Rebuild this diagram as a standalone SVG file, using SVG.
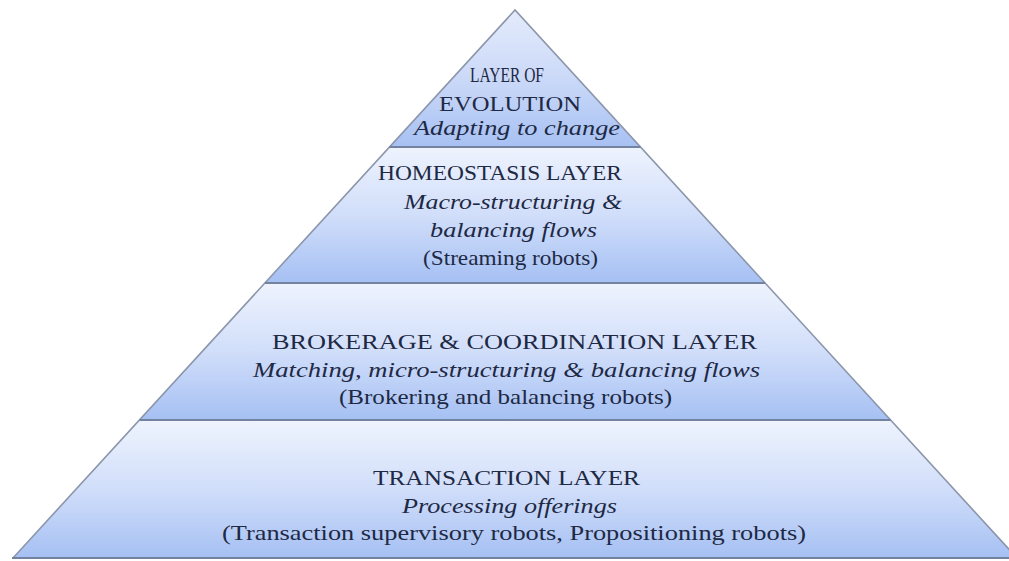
<svg xmlns="http://www.w3.org/2000/svg" width="1009" height="561" viewBox="0 0 1009 561">
<defs>
<linearGradient id="g" x1="0" y1="0" x2="0" y2="1">
<stop offset="0" stop-color="#eef3fd"/>
<stop offset="0.5" stop-color="#d1defa"/>
<stop offset="1" stop-color="#a5c0f3"/>
</linearGradient>
<linearGradient id="gt" x1="0" y1="0" x2="0" y2="1">
<stop offset="0" stop-color="#e4ebfb"/>
<stop offset="0.5" stop-color="#cbd9f8"/>
<stop offset="1" stop-color="#a7c1f3"/>
</linearGradient>
</defs>
<style>
.layer{fill:url(#g);stroke:none}
.edge{stroke:#8c96ab;stroke-width:1.6;fill:none}
.sep{stroke:#73829f;stroke-width:2.2}
.t{font-size:22px;fill:#1e2944;text-anchor:middle}
.i{font-style:italic}
</style>
<rect width="1009" height="561" fill="#ffffff"/>
<g font-family="Liberation Serif, DejaVu Serif, serif">
<g id="layer-evolution">
<polygon points="515,10 640.5,147 389.5,147" fill="url(#gt)"/>
<text class="t" x="507" y="82" textLength="74" lengthAdjust="spacingAndGlyphs">LAYER OF</text>
<text class="t" x="510" y="111" textLength="142" lengthAdjust="spacingAndGlyphs">EVOLUTION</text>
<text class="t i" x="517" y="135" textLength="206" lengthAdjust="spacingAndGlyphs">Adapting to change</text>
</g>
<g id="layer-homeostasis">
<polygon class="layer" points="389.5,147 640.5,147 765,283 265,283"/>
<text class="t" x="500" y="180" textLength="244" lengthAdjust="spacingAndGlyphs">HOMEOSTASIS LAYER</text>
<text class="t i" x="513" y="209" textLength="218" lengthAdjust="spacingAndGlyphs">Macro-structuring &amp;</text>
<text class="t i" x="513.5" y="237" textLength="167" lengthAdjust="spacingAndGlyphs">balancing flows</text>
<text class="t" x="510.5" y="265" textLength="175" lengthAdjust="spacingAndGlyphs">(Streaming  robots)</text>
</g>
<g id="layer-brokerage">
<polygon class="layer" points="265,283 765,283 890.6,420 139.4,420"/>
<text class="t" x="514.5" y="349" textLength="485" lengthAdjust="spacingAndGlyphs">BROKERAGE &amp; COORDINATION LAYER</text>
<text class="t i" x="506.5" y="377" textLength="507" lengthAdjust="spacingAndGlyphs">Matching, micro-structuring &amp; balancing flows</text>
<text class="t" x="505.5" y="404" textLength="333" lengthAdjust="spacingAndGlyphs">(Brokering  and balancing  robots)</text>
</g>
<g id="layer-transaction">
<polygon class="layer" points="139.4,420 890.6,420 1017,558 13,558"/>
<text class="t" x="506.5" y="485" textLength="267" lengthAdjust="spacingAndGlyphs">TRANSACTION LAYER</text>
<text class="t i" x="509.5" y="513" textLength="215" lengthAdjust="spacingAndGlyphs">Processing offerings</text>
<text class="t" x="514" y="540" textLength="584" lengthAdjust="spacingAndGlyphs">(Transaction supervisory robots, Propositioning robots)</text>
</g>
</g>
<g id="connectors">
<polyline class="edge" points="13,558 515,10 1017,558"/>
<line class="sep" x1="389.5" y1="147" x2="640.5" y2="147"/>
<line class="sep" x1="265" y1="283" x2="765" y2="283"/>
<line class="sep" x1="139.4" y1="420" x2="890.6" y2="420"/>
<line class="sep" x1="12" y1="558" x2="1009" y2="558" stroke-width="3"/>
</g>
</svg>
